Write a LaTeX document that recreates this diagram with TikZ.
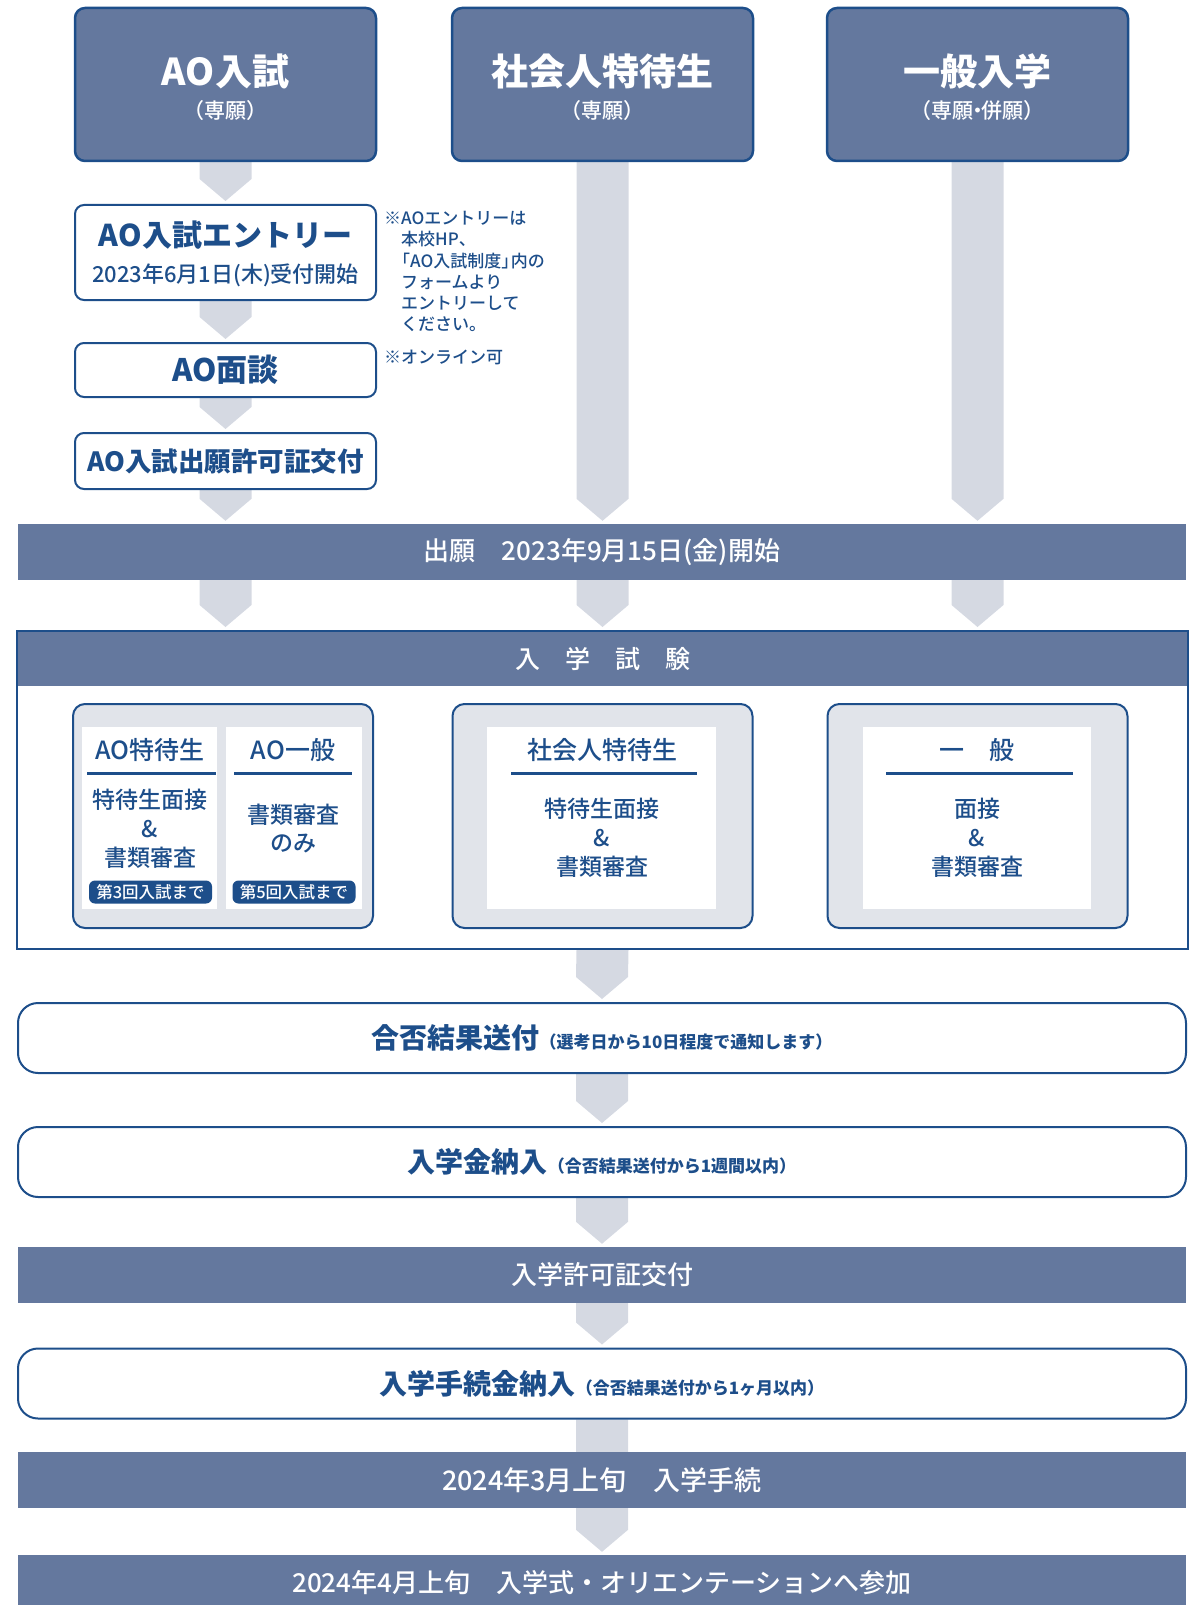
\documentclass[tikz,border=0pt]{standalone}
\usepackage{fontspec}
\setmainfont{Noto Sans CJK JP}
\newfontfamily\jpm{Noto Sans CJK JP Medium}
\usetikzlibrary{calc,backgrounds}
\definecolor{slate}{HTML}{64789E}
\definecolor{navy}{HTML}{1D4E8A}
\definecolor{agray}{HTML}{D5D9E2}
\definecolor{lgray}{HTML}{E1E4EA}
\newcommand{\fs}[1]{\fontsize{#1}{#1}\selectfont}
\newcommand{\garrow}[2]{%
  \path #1 coordinate (ga-s);
  \path #2 coordinate (ga-e);
  \fill[agray] ($(ga-s)+(-26,0)$) -- ($(ga-s)+(26,0)$) -- ($(ga-e)+(26,-25)$) -- ($(ga-e)+(0,-3)$) -- ($(ga-e)+(-26,-25)$) -- cycle;}
\tikzset{
  topbox/.style={draw=navy, line width=2.5pt, fill=slate, rounded corners=10pt, minimum width=301pt, minimum height=153pt, inner sep=0pt},
  toptitle/.style={text=white, font=\bfseries\fs{37}, inner sep=0pt},
  topsub/.style={text=white, font=\jpm\fs{21}, inner sep=0pt},
  wbox/.style={draw=navy, line width=2pt, fill=white, rounded corners=9pt, minimum width=301pt, inner sep=0pt, text=navy},
  navytext/.style={text=navy, inner sep=0pt},
  note/.style={text=navy, font=\jpm\fs{17}, inner sep=0pt, anchor=west},
  bar/.style={fill=slate, minimum width=1168pt, minimum height=56pt, inner sep=0pt, text=white},
  longbox/.style={draw=navy, line width=2pt, fill=white, rounded corners=20pt, minimum width=1168pt, minimum height=70pt, inner sep=0pt, text=navy},
  ibox/.style={draw=navy, line width=2pt, fill=lgray, rounded corners=12pt, minimum width=300pt, minimum height=224pt, inner sep=0pt},
  panel/.style={fill=white, minimum height=182pt, inner sep=0pt},
  heading/.style={text=navy, font=\jpm\fs{25}, inner sep=0pt},
  body/.style={text=navy, font=\jpm\fs{23}, inner sep=0pt},
  badge/.style={fill=navy, text=white, rounded corners=6pt, minimum width=123pt, minimum height=23pt, inner sep=0pt, font=\jpm\fs{16.5}},
  uline/.style={draw=navy, line width=3pt}
}
\begin{document}
\begin{tikzpicture}[x=1pt,y=-1pt]
\useasboundingbox (0,0) rectangle (1199,1605);
% top boxes
\node[topbox] (ao) at (225.5,84.5) {};
\node[topbox] (sha) at (602.5,84.5) {};
\node[topbox] (ipp) at (977.5,84.5) {};
\node[toptitle] (aot) at (225.5,71) {AO入試};
\node[topsub] (aos) at (225.5,111) {（専願）};
\node[toptitle] (shat) at (602.5,71) {社会人特待生};
\node[topsub] (shas) at (602.5,111) {（専願）};
\node[toptitle] (ippt) at (977.5,71) {一般入学};
\node[topsub] (ipps) at (977.5,111) {（専願\kern-.3em・\kern-.3em 併願）};
% AO steps
\node[wbox, minimum height=95pt] (entry) at (225.5,252.5) {};
\node[navytext, font=\bfseries\fs{30}] (entry1) at (225.5,235) {AO入試エントリー};
\node[navytext, font=\jpm\fs{22}] (entry2) at (225.5,275) {2023年6月1日(木)受付開始};
\node[wbox, minimum height=54pt, font=\bfseries\fs{31}] (mendan) at (225.5,370) {AO面談};
\node[wbox, minimum height=56pt, font=\bfseries\fs{26.5}] (kyoka) at (225.5,461) {AO入試出願許可証交付};
% notes
\node[note] (n1) at (384,218) {※AOエントリーは};
\node[note] (n2) at (401,239.5) {本校HP、};
\node[note] (n3) at (393,261) {「AO入試制度」\kern-.45em 内の};
\node[note] (n4) at (401,282) {フォームより};
\node[note] (n5) at (401,303) {エントリーして};
\node[note] (n6) at (401,324.5) {ください。};
\node[note] (n7) at (384,357) {※オンライン可};
% application bar
\node[bar, font=\jpm\fs{26}] (apply) at (602,552) {出願　2023年9月15日(金)開始};
% exam box
\node[fill=slate, minimum width=1171pt, minimum height=55pt, inner sep=0pt, text=white, font=\jpm\fs{25}] (examhead) at (602.5,658.5) {入　学　試　験};
\node[draw=navy, line width=2pt, minimum width=1171pt, minimum height=318pt, inner sep=0pt] (exam) at (602.5,790) {};
\node[ibox] (aobox) at (223,816) {};
\node[ibox] (shabox) at (602.5,816) {};
\node[ibox] (ippbox) at (977.5,816) {};
\node[panel, minimum width=135pt] (p1) at (149.5,818) {};
\node[panel, minimum width=136pt] (p2) at (294,818) {};
\node[panel, minimum width=229pt] (p3) at (601.5,818) {};
\node[panel, minimum width=228pt] (p4) at (977,818) {};
\node[heading] (h1) at (150,750) {AO特待生};
\node[heading] (h2) at (293,750) {AO一般};
\node[heading] (h3) at (602,750) {社会人特待生};
\node[heading] (h4) at (977,750) {一　般};
\draw[uline] (87,773) -- (216,773);
\draw[uline] (234,773) -- (352,773);
\draw[uline] (511,773) -- (697,773);
\draw[uline] (886,773) -- (1073,773);
\node[body] (b11) at (150,800) {特待生面接};
\node[body] (b12) at (150,829) {\&};
\node[body] (b13) at (150,858) {書類審査};
\node[body] (b21) at (293,815) {書類審査};
\node[body] (b22) at (293,843) {のみ};
\node[body] (b31) at (602,809) {特待生面接};
\node[body] (b32) at (602,838) {\&};
\node[body] (b33) at (602,867) {書類審査};
\node[body] (b41) at (977,809) {面接};
\node[body] (b42) at (977,838) {\&};
\node[body] (b43) at (977,867) {書類審査};
\node[badge] (bd1) at (150.5,892) {第3回入試まで};
\node[badge] (bd2) at (294,892) {第5回入試まで};
% lower steps
\node[longbox] (gohi) at (602,1038) {\bfseries\fs{28}合否結果送付\fs{17}（選考日から10日程度で通知します）};
\node[longbox] (kin) at (602,1162) {\bfseries\fs{28}入学金納入\fs{17}（合否結果送付から1週間以内）};
\node[bar, font=\jpm\fs{26}] (kyokasho) at (602,1275) {入学許可証交付};
\node[longbox] (tetsu) at (602,1383.5) {\bfseries\fs{28}入学手続金納入\fs{17}（合否結果送付から1ヶ月以内）};
\node[bar, font=\jpm\fs{27}] (mar) at (602,1480) {2024年3月上旬　入学手続};
\node[bar, font=\jpm\fs{26}] (apr) at (602,1583) {2024年4月上旬　入学式・オリエンテーションへ参加};
% arrows
\begin{scope}[on background layer]
\garrow{(ao.south)}{(entry.north)}
\garrow{(entry.south)}{(mendan.north)}
\garrow{(mendan.south)}{(kyoka.north)}
\garrow{(kyoka.south)}{(kyoka.south |- apply.north)}
\garrow{(sha.south)}{(sha.south |- apply.north)}
\garrow{(ipp.south)}{(ipp.south |- apply.north)}
\garrow{(apply.south -| ao.south)}{(exam.north -| ao.south)}
\garrow{(apply.south -| sha.south)}{(exam.north -| sha.south)}
\garrow{(apply.south -| ipp.south)}{(exam.north -| ipp.south)}
\garrow{(exam.south)}{(gohi.north)}
\garrow{(gohi.south)}{(kin.north)}
\garrow{(kin.south)}{(kyokasho.north)}
\garrow{(kyokasho.south)}{(tetsu.north)}
\garrow{(tetsu.south)}{(mar.center)}
\garrow{(mar.south)}{(apr.north)}
\end{scope}
\end{tikzpicture}
\end{document}
